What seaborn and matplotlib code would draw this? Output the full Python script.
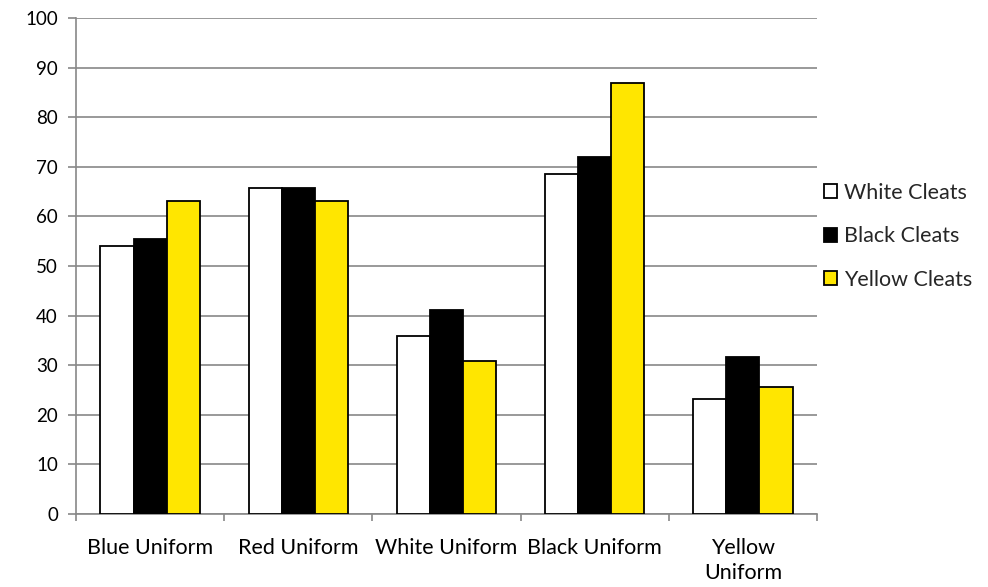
import matplotlib
matplotlib.use("Agg")
import matplotlib.pyplot as plt
import seaborn as sns
import pandas as pd
import numpy as np

uniforms = ["Blue Uniform", "Red Uniform", "White Uniform", "Black Uniform", "Yellow\nUniform"]
cleats = ["White Cleats", "Black Cleats", "Yellow Cleats"]
white_cleats = [54.0, 65.7, 35.9, 68.5, 23.1]
black_cleats = [55.4, 65.8, 41.2, 72.0, 31.6]
yellow_cleats = [63.2, 63.2, 30.8, 86.8, 25.6]
colors = ["#FFFFFF", "#000000", "#FFE600"]
y_ticks = list(range(0, 101, 10))

df = pd.DataFrame({
    "uniform": uniforms * 3,
    "cleats": [c for c in cleats for _ in uniforms],
    "value": white_cleats + black_cleats + yellow_cleats,
})

sns.set_theme(style="white")
plt.rcParams["font.family"] = ["Lato", "DejaVu Sans"]

fig = plt.figure(figsize=(9.88, 5.87), dpi=100)
ax = fig.add_axes([0.0769, 0.1244, 0.7500, 0.8449])

sns.barplot(data=df, x="uniform", y="value", hue="cleats", order=uniforms,
            hue_order=cleats, palette=colors, saturation=1, width=0.67, gap=0,
            edgecolor="black", linewidth=1.3, errorbar=None, ax=ax, zorder=3)

grid_c = "#888888"
ax.set_ylim(0, 100)
ax.set_xlim(-0.5, len(uniforms) - 0.5)
ax.set_yticks(y_ticks)
ax.yaxis.grid(True, color=grid_c, linewidth=1.2, zorder=0)
ax.set_axisbelow(True)
ax.set_xlabel("")
ax.set_ylabel("")

for side in ["top", "right"]:
    ax.spines[side].set_visible(False)
for side in ["left", "bottom"]:
    ax.spines[side].set_color(grid_c)
    ax.spines[side].set_linewidth(1.2)

ax.tick_params(axis="y", which="major", left=True, length=6, width=1.2,
               color=grid_c, pad=7, labelsize=13.5, labelcolor="black")
ax.set_xticks(np.arange(-0.5, len(uniforms), 1.0), minor=True)
ax.tick_params(axis="x", which="minor", bottom=True, length=5, width=1.2, color=grid_c)
ax.tick_params(axis="x", which="major", bottom=False, length=0, pad=17,
               labelsize=15.5, labelcolor="black")
for lbl in ax.get_xticklabels():
    lbl.set_verticalalignment("top")
    lbl.set_linespacing(1.35)

handles, labels = ax.get_legend_handles_labels()
ax.legend(handles, labels, loc="center left", bbox_to_anchor=(0.998, 0.56),
          frameon=False, fontsize=15.5, handlelength=0.62, handleheight=0.62,
          handletextpad=0.3, labelspacing=1.1, borderaxespad=0.0)

fig.savefig("out.png", dpi=100, facecolor="white")
